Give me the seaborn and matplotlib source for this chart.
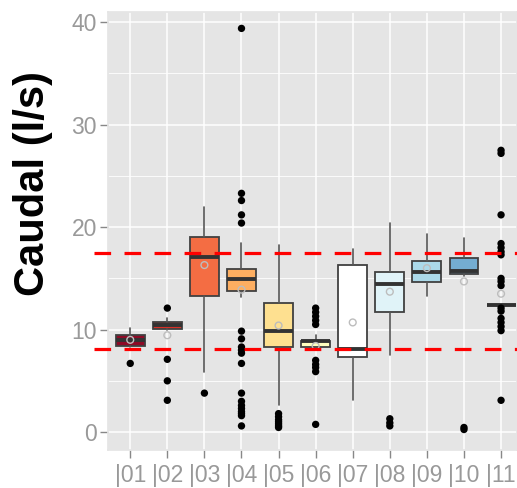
"""
Caudal boxplots per station, ggplot-like look
"""
import matplotlib
matplotlib.use('Agg')
import matplotlib.pyplot as plt
import seaborn as sns
import numpy as np
import pandas as pd

# data
stations = ['|01', '|02', '|03', '|04', '|05', '|06', '|07', '|08', '|09', '|10', '|11']
q1 = [8.4, 10.05, 13.3, 13.8, 8.3, 8.26, 7.35, 11.7, 14.6, 15.4, 12.45]
median = [8.95, 10.45, 17.1, 14.9, 9.9, 8.85, 8.1, 14.5, 15.65, 15.75, 12.45]
q3 = [9.5, 10.75, 19.05, 15.9, 12.55, 8.9, 16.35, 15.6, 16.7, 17.0, 12.45]
whisk_lo = [8.3, 9.95, 5.9, 13.2, 2.6, 8.1, 3.1, 7.5, 13.3, 15.2, 12.45]
whisk_hi = [10.2, 11.15, 22.0, 18.5, 18.3, 9.5, 17.85, 20.4, 19.3, 18.95, 12.45]
means = [9.0, 9.45, 16.3, 13.9, 10.4, 8.4, 10.7, 13.7, 16.0, 14.7, 13.5]
outliers = [
    [6.7],
    [12.1, 7.1, 5.0, 3.1],
    [3.8],
    [39.4, 23.3, 22.6, 21.2, 20.4, 9.85, 9.1, 8.3, 8.0, 7.7, 6.7, 3.8,
     3.0, 2.6, 2.3, 2.0, 1.8, 1.6, 0.6],
    [1.8, 1.5, 1.2, 1.0, 0.8, 0.6, 0.45],
    [12.1, 11.7, 11.3, 10.9, 10.5, 7.0, 6.6, 6.3, 5.9, 0.75],
    [],
    [1.3, 0.9, 0.6],
    [],
    [0.45, 0.25],
    [27.5, 27.2, 21.2, 18.4, 18.0, 17.6, 17.3, 15.0, 14.7, 14.3, 12.1, 11.8,
     11.1, 10.7, 10.3, 9.9, 3.1],
]
fills = ['#8E0A26', '#D73027', '#F46D43', '#FDAE61', '#FEE090', '#FFFFBF',
         '#FFFFFF', '#E0F3F8', '#ABD9E9', '#74ADD1', '#4575B4']
ref_lines = [17.5, 8.1]

sns.set_theme(style='darkgrid', rc={
    'axes.facecolor': '#E5E5E5',
    'grid.color': 'white',
    'axes.edgecolor': '#E5E5E5',
})
plt.rcParams['font.family'] = ['Liberation Sans', 'DejaVu Sans']

fig = plt.figure(figsize=(5.17, 4.88), dpi=100)
ax = fig.add_axes([108 / 517, 38 / 488, 1 - 108 / 517, 438 / 488])

pos = np.arange(len(stations))

# minor grid like ggplot
ax.set_yticks([5, 15, 25, 35], minor=True)
ax.grid(True, which='minor', axis='y', color='white', linewidth=0.6)
ax.grid(True, which='major', color='white', linewidth=1.1)

stats = []
for i in range(len(stations)):
    stats.append({'q1': q1[i], 'med': median[i], 'q3': q3[i],
                  'whislo': whisk_lo[i], 'whishi': whisk_hi[i], 'fliers': []})

bp = ax.bxp(stats, positions=pos, widths=0.78, patch_artist=True,
            showfliers=False, showcaps=False,
            boxprops=dict(edgecolor='#404040', linewidth=1.3),
            whiskerprops=dict(color='#555555', linewidth=1.2),
            medianprops=dict(color='#333333', linewidth=2.8))
for patch, c in zip(bp['boxes'], fills):
    patch.set_facecolor(c)

# outliers
out_df = pd.DataFrame({
    'x': [i for i, vals in enumerate(outliers) for _ in vals],
    'y': [v for vals in outliers for v in vals],
})
sns.scatterplot(data=out_df, x='x', y='y', color='black', s=28,
                edgecolor='none', ax=ax, zorder=4)

# means
ax.scatter(pos, means, s=24, facecolors='none', edgecolors='#BDBDBD',
           linewidths=1.0, zorder=5)

# reference lines
for yv in ref_lines:
    ax.axhline(yv, xmin=-0.035, xmax=1, color='#FF0000', linewidth=2.3,
               linestyle=(0, (5.2, 4.2)), clip_on=False, zorder=6)

ax.set_xlim(-0.6, 10.43)
ax.set_ylim(-1.75, 41.0)
ax.set_xticks(pos)
ax.set_xticklabels(stations)
ax.set_yticks([0, 10, 20, 30, 40])
ax.set_xlabel('')
ax.set_ylabel('')
ax.tick_params(axis='both', which='major', labelsize=16.5, labelcolor='#999999',
               color='#888888', length=6, width=1, pad=2, left=True,
               bottom=True)
ax.tick_params(axis='x', which='major', pad=4)
ax.tick_params(axis='y', which='minor', length=0)

fig.text(0.064, 1 - 183 / 488, 'Caudal (l/s)', rotation=90, fontsize=30,
         fontweight='bold', color='black', ha='center', va='center')

plt.savefig('out.png', dpi=100)
plt.close()
